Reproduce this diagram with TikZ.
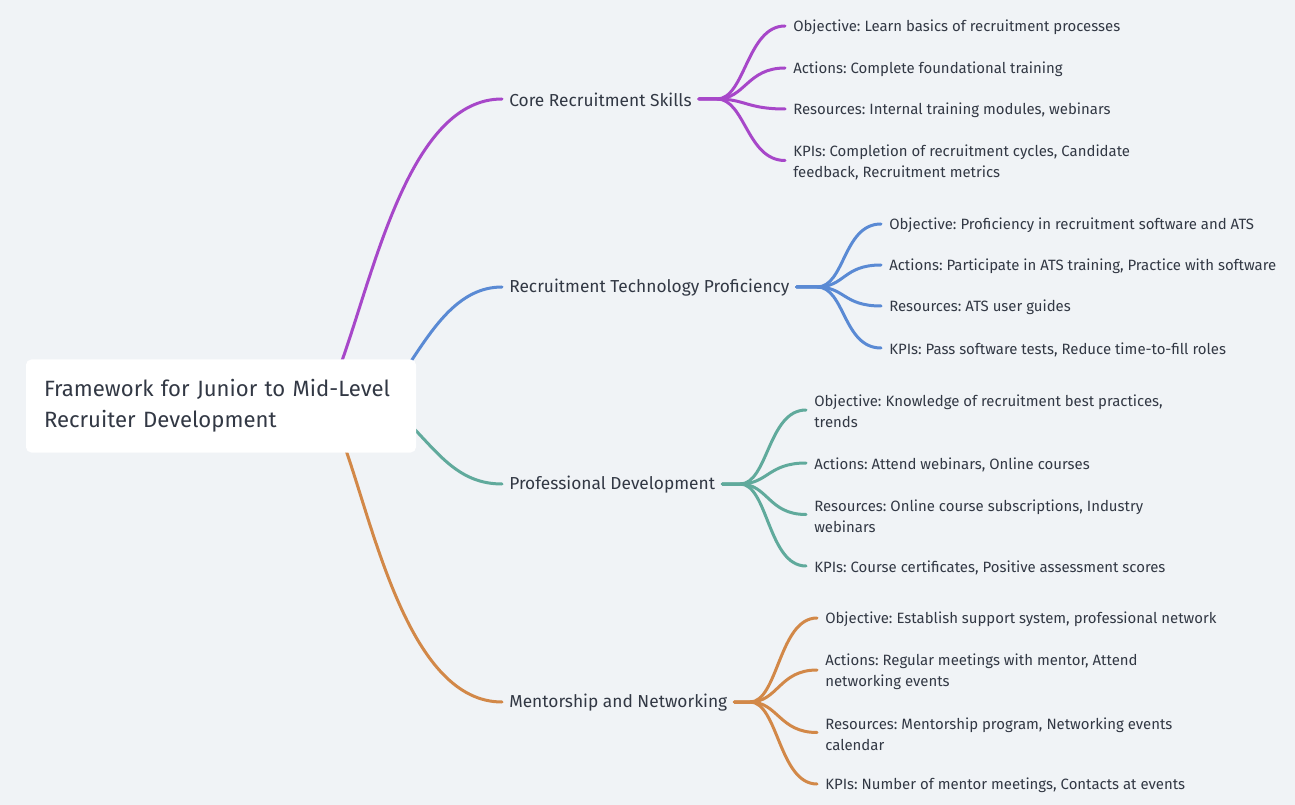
\documentclass[tikz,border=0pt]{standalone}
\usepackage{fontspec}
\setmainfont{Fira Sans}
\frenchspacing
\usetikzlibrary{calc,backgrounds}
\definecolor{bg}{RGB}{240,243,246}
\definecolor{txt}{RGB}{50,56,68}
\definecolor{cpur}{RGB}{167,71,201}
\definecolor{cblu}{RGB}{90,138,212}
\definecolor{ctea}{RGB}{96,170,156}
\definecolor{cora}{RGB}{210,136,72}
\begin{document}
\begin{tikzpicture}[x=0.75pt,y=-0.75pt,
  rootbox/.style={fill=white, rounded corners=4pt, minimum width=292.5pt, minimum height=69.75pt,
    text width=265.5pt, align=left, inner sep=0pt, font=\fontsize{16.6}{23.25}\selectfont\frenchspacing, text=txt},
  branch/.style={anchor=west, inner sep=0pt, font=\fontsize{13}{15}\selectfont, text=txt},
  leaf/.style={anchor=west, inner sep=0pt, align=left, font=\fontsize{11.2}{15.75}\selectfont\frenchspacing, text=txt},
  link/.style={line width=2.25pt, line cap=round}]
\useasboundingbox (0,0) rectangle (1295,805);

\node[rootbox] (root) at (221,406) {Framework for Junior to Mid-Level\\Recruiter Development};

\node[branch] (b1) at (509,100) {Core Recruitment Skills};
\node[branch] (b2) at (509,288) {Recruitment Technology Proficiency};
\node[branch] (b3) at (509,485) {Professional Development};
\node[branch] (b4) at (509,703) {Mentorship and Networking};

\coordinate (f1) at (717,99);
\coordinate (f2) at (817,287);
\coordinate (f3) at (740,484);
\coordinate (f4) at (750,702);

\node[leaf] (l11) at (793,27.5) {Objective: Learn basics of recruitment processes};
\node[leaf] (l12) at (793,69.5) {Actions: Complete foundational training};
\node[leaf] (l13) at (793,110.5) {Resources: Internal training modules, webinars};
\node[leaf] (l14) at (793,162) {KPIs: Completion of recruitment cycles, Candidate\\feedback, Recruitment metrics};

\node[leaf] (l21) at (889,225.5) {Objective: Proficiency in recruitment software and ATS};
\node[leaf] (l22) at (889,266.5) {Actions: Participate in ATS training, Practice with software};
\node[leaf] (l23) at (889,307.5) {Resources: ATS user guides};
\node[leaf] (l24) at (889,349.5) {KPIs: Pass software tests, Reduce time-to-fill roles};

\node[leaf] (l31) at (814,411.5) {Objective: Knowledge of recruitment best practices,\\trends};
\node[leaf] (l32) at (814,464.5) {Actions: Attend webinars, Online courses};
\node[leaf] (l33) at (814,516) {Resources: Online course subscriptions, Industry\\webinars};
\node[leaf] (l34) at (814,567.5) {KPIs: Course certificates, Positive assessment scores};

\node[leaf] (l41) at (825,619.5) {Objective: Establish support system, professional network};
\node[leaf] (l42) at (825,671.5) {Actions: Regular meetings with mentor, Attend\\networking events};
\node[leaf] (l43) at (825,734) {Resources: Mentorship program, Networking events\\calendar};
\node[leaf] (l44) at (825,785.5) {KPIs: Number of mentor meetings, Contacts at events};

\begin{scope}[on background layer]
\fill[bg] (0,0) rectangle (1295,805);
% root to branches
\draw[link,cpur] ($(root.north west)+(315,5)$) .. controls +(34,-94) and +(-92,0) .. ($(b1.west)+(-7,-1)$);
\draw[link,cblu] ($(root.north west)+(384,4)$) .. controls +(25,-38) and +(-42,0) .. ($(b2.west)+(-7,-1)$);
\draw[link,ctea] ($(root.north west)+(386,67)$) .. controls +(28,29) and +(-42,0) .. ($(b3.west)+(-7,-1)$);
\draw[link,cora] ($(root.south west)+(319,-6)$) .. controls +(30,84) and +(-92,0) .. ($(b4.west)+(-7,-1)$);
% branches to leaves
\foreach \b/\f/\c/\ls in {b1/f1/cpur/{l11,l12,l13,l14}, b2/f2/cblu/{l21,l22,l23,l24},
                          b3/f3/ctea/{l31,l32,l33,l34}, b4/f4/cora/{l41,l42,l43,l44}}{
  \foreach \l in \ls {
    \draw[link,\c] ($(\b.east)+(7,-1)$) -- (\f) .. controls +(28,0) and +(-38,0) .. ($(\l.west)+(-8,-1.5)$);
  }
}
\end{scope}
\end{tikzpicture}
\end{document}
